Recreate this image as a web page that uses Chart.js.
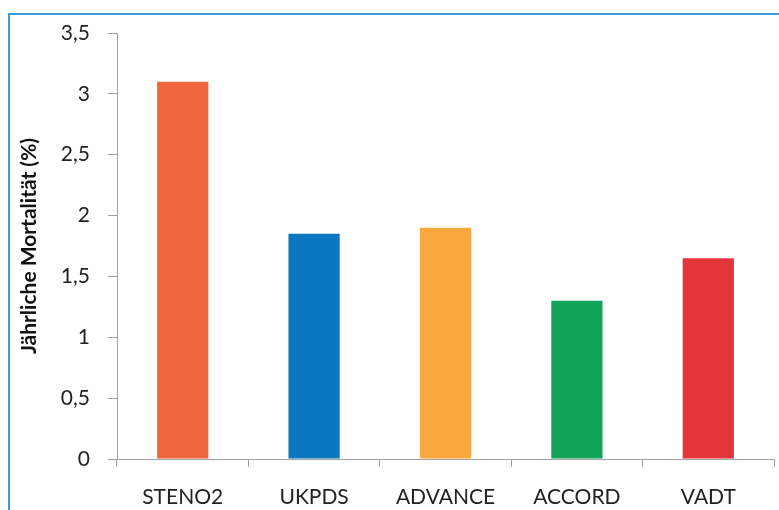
<!DOCTYPE html>
<html>
<head>
<meta charset="utf-8">
<script src="https://cdn.jsdelivr.net/npm/chart.js@4"></script>
<style>
    html, body { margin: 0; padding: 0; background: #fff; overflow: hidden; }
    #wrap { position: relative; width: 779px; height: 510px; }
    #frame { position: absolute; left: 8px; top: 13px; width: 900px; height: 600px; border: 2px solid #3f9bd6; box-sizing: border-box; }
    canvas { position: absolute; left: 0; top: 0; }
</style>
</head>
<body>
<div id="wrap">
    <div id="frame"></div>
    <canvas id="chart" width="779" height="510"></canvas>
</div>
<script>
// studies and yearly mortality
const studies = ["STENO2", "UKPDS", "ADVANCE", "ACCORD", "VADT"];
const mortality = [3.1, 1.85, 1.9, 1.3, 1.65];
const barColors = ["#f0663f", "#0a78c0", "#f8a83d", "#12a55a", "#e3353a"];

const ctx = document.getElementById("chart").getContext("2d");

new Chart(ctx, {
    type: "bar",
    data: {
        labels: studies,
        datasets: [{
            data: mortality,
            backgroundColor: barColors,
            borderWidth: 0,
            categoryPercentage: 1.0,
            barPercentage: 0.39
        }]
    },
    options: {
        responsive: false,
        animation: false,
        layout: { padding: { left: 0, right: 5, top: 33, bottom: 0 } },
        plugins: {
            legend: { display: false },
            tooltip: { enabled: false }
        },
        scales: {
            x: {
                grid: { display: true, drawOnChartArea: false, offset: true, tickLength: 8, color: "#a0a0a0" },
                border: { color: "#a0a0a0", width: 1 },
                ticks: { color: "#222", padding: 18, font: { family: "Lato", size: 21 } },
                afterFit: (scale) => { scale.height = 51; }
            },
            y: {
                min: 0,
                max: 3.5,
                grid: { display: true, drawOnChartArea: false, tickLength: 9, color: "#a0a0a0" },
                border: { color: "#a0a0a0", width: 1 },
                ticks: {
                    stepSize: 0.5,
                    color: "#222",
                    padding: 18,
                    font: { family: "Lato", size: 21 },
                    callback: (v) => String(v).replace(".", ",")
                },
                title: {
                    display: true,
                    text: "Jährliche Mortalität (%)",
                    color: "#111",
                    font: { family: "Lato", size: 21, weight: "bold" },
                    padding: { top: 17, bottom: 0 }
                },
                afterFit: (scale) => { scale.width = 117; }
            }
        }
    }
});
</script>
</body>
</html>
